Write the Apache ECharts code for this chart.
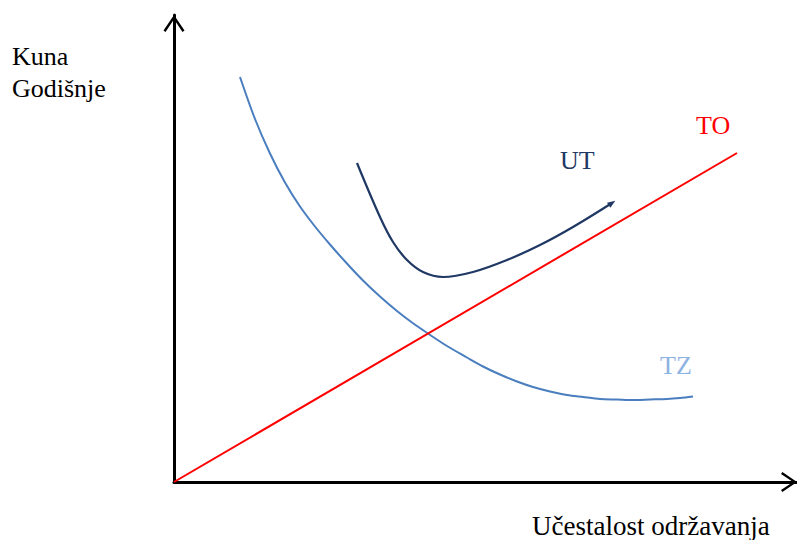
<!DOCTYPE html>
<html>
<head>
<meta charset="utf-8">
<script src="https://cdn.jsdelivr.net/npm/echarts@6/dist/echarts.min.js"></script>
<style>html,body{margin:0;padding:0;background:#fff;}#c{width:797px;height:540px;}</style>
</head>
<body>
<div id="c"></div>
<script>
// Data (x: maintenance frequency, y: annual cost, arbitrary units)
const toX = [0, 563];
const toY = [0, 329];
const tzX = [66, 81, 96, 111, 126, 141, 156, 172, 189, 206, 223, 238, 254, 273, 293, 309, 326, 343, 359, 376, 393, 409, 426, 443, 459, 476, 493, 506, 519];
const tzY = [405, 363, 328.5, 299.5, 275.5, 255.5, 237.5, 219.5, 201.5, 185.5, 171, 159.5, 148.5, 136, 124.5, 115.5, 107.5, 100.5, 95, 90.5, 87, 85, 83, 82.5, 82, 82.5, 83, 84, 85.5];
const utX = [183, 206, 219, 233, 249, 269, 299, 333, 366, 399, 438];
const utY = [319, 265, 240, 222, 210, 205, 210, 222, 237, 255, 279];
const seriesNames = ['TO', 'TZ', 'UT'];
const yAxisTitle = ['Kuna', 'Godišnje'];
const xAxisTitle = 'Učestalost održavanja';

const font = '"Liberation Serif", "Times New Roman", serif';
const chevron = 'path://M10.5,0 L21,15.5 L19,17 L10.5,4.2 L2,17 L0,15.5 Z';

function pairs(xs, ys) { return xs.map((x, i) => [x, ys[i]]); }

const utData = pairs(utX, utY).map((p, i, arr) => i === arr.length - 1
  ? { value: p, symbol: 'triangle', symbolSize: [6, 8], symbolRotate: -56 }
  : { value: p, symbol: 'none' });

const chart = echarts.init(document.getElementById('c'), null, { renderer: 'svg' });
chart.setOption({
  animation: false,
  backgroundColor: '#ffffff',
  grid: { left: 174, right: 0, top: 15, bottom: 58, containLabel: false },
  xAxis: {
    type: 'value', min: 0, max: 623,
    axisLine: { show: true, onZero: false, lineStyle: { color: '#000', width: 3 },
      symbol: ['none', chevron], symbolSize: [21, 16], symbolOffset: [0, -8] },
    axisTick: { show: false }, axisLabel: { show: false }, splitLine: { show: false }
  },
  yAxis: {
    type: 'value', min: 0, max: 467,
    axisLine: { show: true, onZero: false, lineStyle: { color: '#000', width: 3 },
      symbol: ['none', chevron], symbolSize: [21, 17], symbolOffset: [0, -8.5] },
    axisTick: { show: false }, axisLabel: { show: false }, splitLine: { show: false }
  },
  series: [
    { name: seriesNames[0], type: 'line', data: pairs(toX, toY), symbol: 'none',
      lineStyle: { color: '#ff0000', width: 2 }, z: 3 },
    { name: seriesNames[1], type: 'line', data: pairs(tzX, tzY), symbol: 'none', smooth: 0.3,
      lineStyle: { color: '#4a7ebf', width: 2 }, z: 2 },
    { name: seriesNames[2], type: 'line', data: utData, symbol: 'none', smooth: 0.35,
      showAllSymbol: true, itemStyle: { color: '#1f3864' },
      lineStyle: { color: '#1f3864', width: 2.2 }, z: 4 }
  ],
  graphic: [
    { type: 'text', left: 12, top: 43, style: { text: yAxisTitle[0], font: '26px ' + font, fill: '#000' } },
    { type: 'text', left: 12, top: 75, style: { text: yAxisTitle[1], font: '26px ' + font, fill: '#000' } },
    { type: 'text', left: 532, top: 512, style: { text: xAxisTitle, font: '27px ' + font, fill: '#000' } },
    { type: 'text', left: 696, top: 112, style: { text: seriesNames[0], font: '26px ' + font, fill: '#ff0000' } },
    { type: 'text', left: 560, top: 147, style: { text: seriesNames[2], font: '26px ' + font, fill: '#1f3864' } },
    { type: 'text', left: 660, top: 352, style: { text: seriesNames[1], font: '26px ' + font, fill: '#8db3e2' } }
  ]
});
</script>
</body>
</html>
